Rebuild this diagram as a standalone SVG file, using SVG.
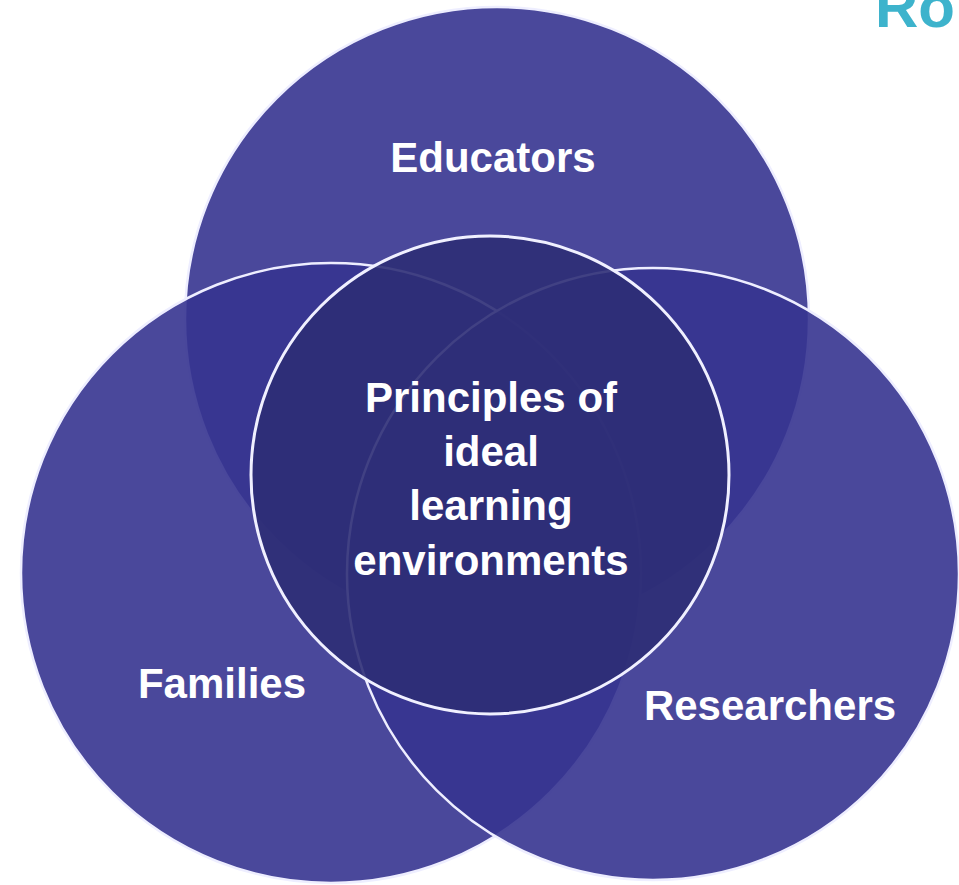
<svg xmlns="http://www.w3.org/2000/svg" width="959" height="885" viewBox="0 0 959 885">
  <style>
    .set { fill: #363490; fill-opacity: 0.9; stroke: #eeeeff; stroke-width: 2.5; }
    .core { fill: #2d2d75; fill-opacity: 0.9; stroke: #f0f0ff; stroke-width: 3; }
    .lbl { font-family: "Liberation Sans", Arial, sans-serif; font-weight: bold; font-size: 42px; fill: #ffffff; text-anchor: middle; }
    .title { font-family: "Liberation Sans", Arial, sans-serif; font-weight: bold; font-size: 60px; fill: #3db3cc; }
  </style>
  <rect x="0" y="0" width="959" height="885" fill="#ffffff"/>
  <text class="title" x="875" y="27">Ro</text>
  <g id="educators">
    <circle class="set" cx="497" cy="319" r="312"/>
  </g>
  <g id="families">
    <circle class="set" cx="331" cy="573" r="310"/>
  </g>
  <g id="researchers">
    <circle class="set" cx="653" cy="574" r="306"/>
  </g>
  <g id="principles">
    <circle class="core" cx="490" cy="475" r="239"/>
  </g>
  <g id="connectors"></g>
  <g id="labels">
    <text class="lbl" x="493" y="172">Educators</text>
    <text class="lbl" x="222" y="698">Families</text>
    <text class="lbl" x="770" y="720">Researchers</text>
    <text class="lbl" x="491" y="412">Principles of</text>
    <text class="lbl" x="491" y="466">ideal</text>
    <text class="lbl" x="491" y="520">learning</text>
    <text class="lbl" x="491" y="575">environments</text>
  </g>
</svg>
